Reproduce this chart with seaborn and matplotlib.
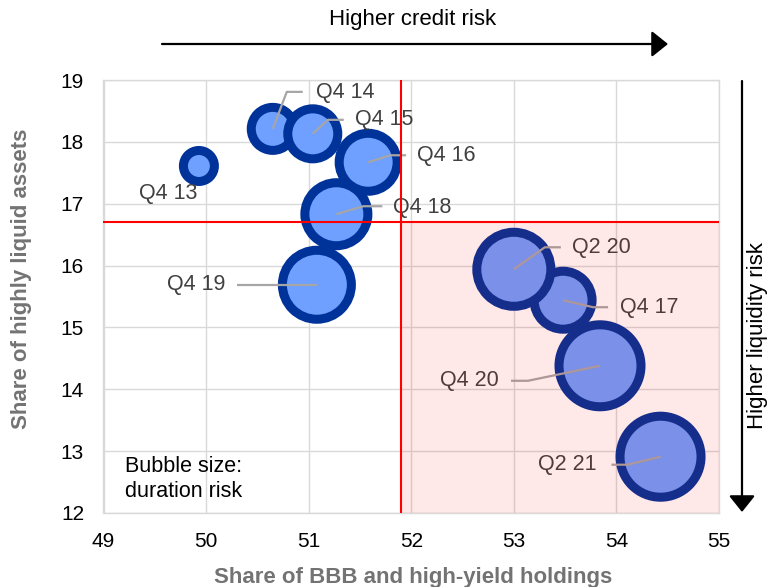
import matplotlib
matplotlib.use("Agg")
import matplotlib.pyplot as plt
from matplotlib.patches import Rectangle
import seaborn as sns
import pandas as pd
import numpy as np

# Portfolio composition by quarter
quarters = ["Q4 13", "Q4 14", "Q4 15", "Q4 16", "Q4 17",
            "Q4 18", "Q4 19", "Q2 20", "Q4 20", "Q2 21"]
bbb_hy_share = [49.93, 50.65, 51.04, 51.58, 53.48, 51.27, 51.08, 53.00, 53.84, 54.43]
liquid_share = [17.61, 18.21, 18.13, 17.67, 15.44, 16.83, 15.69, 15.94, 14.38, 12.91]
duration = [0.96, 1.85, 2.50, 3.36, 3.36, 3.97, 4.76, 5.48, 6.72, 6.56]

credit_threshold = 51.9
liquidity_threshold = 16.7
x_ticks = [49, 50, 51, 52, 53, 54, 55]
y_ticks = [12, 13, 14, 15, 16, 17, 18, 19]

# Label placement (pixel offsets from bubble centre): leader-line vertices, text position, alignment
label_layout = {
    "Q4 13": ([], (-31, -28), "center"),
    "Q4 14": ([(14, 37), (30, 37)], (43, 36), "left"),
    "Q4 15": ([(15, 14), (31, 14)], (42, 14), "left"),
    "Q4 16": ([(22, 7), (38, 7)], (49, 7), "left"),
    "Q4 17": ([(30, -7), (45, -7)], (57, -7), "left"),
    "Q4 18": ([(27, 8), (46, 8)], (57, 7), "left"),
    "Q4 19": ([(-80, 0)], (-91, 0), "right"),
    "Q2 20": ([(31, 22), (47, 22)], (58, 22), "left"),
    "Q4 20": ([(-72, -15), (-89, -15)], (-101, -15), "right"),
    "Q2 21": ([(-33, -8), (-49, -8)], (-64, -8), "right"),
}

sns.set_theme(style="white")
plt.rcParams["font.family"] = ["Liberation Sans", "DejaVu Sans"]

W, H = 767, 587
fig = plt.figure(figsize=(W / 100, H / 100), dpi=100)
ax = fig.add_axes([103.5 / W, 1 - 513 / H, (719 - 103.5) / W, (513 - 80) / H])

df = pd.DataFrame({"quarter": quarters, "bbb_hy": bbb_hy_share,
                   "liquid": liquid_share, "duration": duration})

# bubble area proportional to duration
area_per_unit = 518.4
dmin, dmax = min(duration), max(duration)
sns.scatterplot(data=df, x="bbb_hy", y="liquid", size="duration",
                sizes=(area_per_unit * dmin, area_per_unit * dmax),
                size_norm=(dmin, dmax), color="#6f9fff", edgecolor="#003399",
                linewidth=6.5, legend=False, ax=ax, zorder=3)

ax.set_xlim(49, 55)
ax.set_ylim(12, 19)
ax.set_xticks(x_ticks)
ax.set_yticks(y_ticks)
ax.grid(True, color="#d9d9d9", lw=1.0)
ax.set_axisbelow(True)
for sp in ax.spines.values():
    sp.set_color("#d9d9d9")
    sp.set_linewidth(1.0)
ax.tick_params(length=0, labelsize=15, labelcolor="#000000")
ax.tick_params(axis="x", pad=14)
ax.tick_params(axis="y", pad=14)

ax.set_xlabel("Share of BBB and high-yield holdings", fontsize=16,
              fontweight="bold", color="#737373")
ax.set_ylabel("Share of highly liquid assets", fontsize=16,
              fontweight="bold", color="#737373")
ax.xaxis.set_label_coords((413 - 103.5) / 615.5, -(577 - 513) / 433)
ax.xaxis.label.set_va("center")
ax.yaxis.set_label_coords((22 - 103.5) / 615.5, (513 - 279) / 433)
ax.yaxis.label.set_va("center")

# leader lines and quarter labels
for q, x, y in zip(quarters, bbb_hy_share, liquid_share):
    leader, (tdx, tdy), ha = label_layout[q]
    if leader:
        cx, cy = ax.transData.transform((x, y))
        pts = np.array([(cx, cy)] + [(cx + dx, cy + dy) for dx, dy in leader])
        dpts = ax.transData.inverted().transform(pts)
        ax.plot(dpts[:, 0], dpts[:, 1], color="#a6a6a6", lw=1.6, zorder=4,
                solid_capstyle="butt")
    ax.annotate(q, xy=(x, y), xytext=(tdx, tdy), textcoords="offset pixels",
                ha=ha, va="center", fontsize=15.5, color="#404040", zorder=4)

# high-risk quadrant
ax.add_patch(Rectangle((credit_threshold, 12), 55 - credit_threshold,
                       liquidity_threshold - 12, facecolor="red", alpha=0.09,
                       edgecolor="none", zorder=5))
ax.axvline(credit_threshold, color="red", lw=1.5, zorder=6)
ax.axhline(liquidity_threshold, color="red", lw=1.5, zorder=6)

ax.text((125 - 103.5) / 615.5, (513 - 479) / 433, "Bubble size:\nduration risk",
        transform=ax.transAxes, ha="left", va="center", fontsize=15.5,
        linespacing=1.3, color="#000000", zorder=7)

# risk direction arrows
arrow_kw = dict(arrowstyle="-|>,head_length=0.5,head_width=0.4",
                color="black", lw=1.6, mutation_scale=20,
                shrinkA=0, shrinkB=0)
ax.annotate("", xy=(668, H - 44), xytext=(162, H - 44),
            xycoords="figure pixels", textcoords="figure pixels",
            arrowprops=arrow_kw, annotation_clip=False)
ax.annotate("", xy=(742, H - 512), xytext=(742, H - 81),
            xycoords="figure pixels", textcoords="figure pixels",
            arrowprops=arrow_kw, annotation_clip=False)
fig.text(413 / W, 1 - 20 / H, "Higher credit risk", ha="center", va="center",
         fontsize=16, color="#000000")
fig.text(758 / W, 1 - 336 / H, "Higher liquidity risk", ha="center", va="center",
         rotation=90, fontsize=16, color="#000000")

fig.savefig("out.png", dpi=100)
